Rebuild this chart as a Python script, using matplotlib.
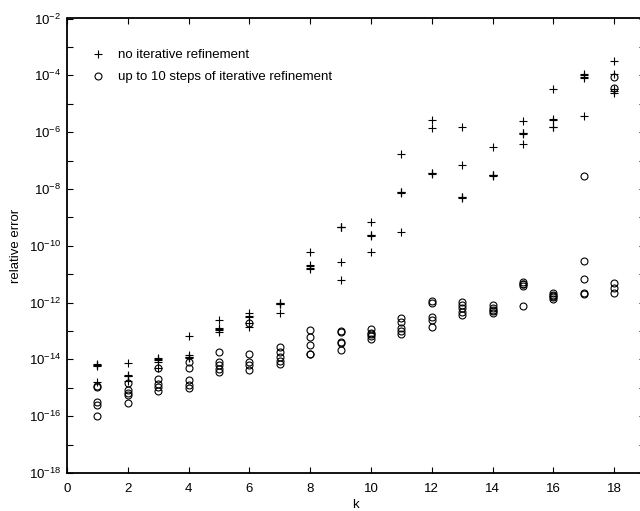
import matplotlib
matplotlib.use("Agg")
import matplotlib.pyplot as plt
from matplotlib.ticker import FixedLocator, FixedFormatter, NullFormatter

plt.rcParams['font.family'] = ['Liberation Sans', 'DejaVu Sans']
plt.rcParams['mathtext.fontset'] = 'custom'
plt.rcParams['mathtext.rm'] = 'Liberation Sans'
plt.rcParams['mathtext.it'] = 'Liberation Sans:italic'
plt.rcParams['mathtext.bf'] = 'Liberation Sans:bold'

# ---- data (5 trials per k) ----
k = list(range(1, 19))

err_no_refine = [
    [6.5e-15, 6.5e-15, 6.0e-15, 1.6e-15, 6.9e-15],     # k=1
    [7.6e-15, 2.8e-15, 2.7e-15, 2.6e-15, 1.7e-15],     # k=2
    [1.1e-14, 8.3e-15, 9.5e-15, 4.9e-15, 1.02e-14],    # k=3
    [6.8e-14, 1.4e-14, 1.26e-14, 1.17e-14, 1.12e-14],  # k=4
    [2.45e-13, 1.26e-13, 9.5e-14, 1.1e-13, 1.17e-13],  # k=5
    [4.2e-13, 3.4e-13, 3.2e-13, 1.9e-13, 1.38e-13],    # k=6
    [9.3e-13, 9.3e-13, 8.9e-13, 4.2e-13, 8.7e-13],     # k=7
    [6.2e-11, 2.1e-11, 1.95e-11, 1.48e-11, 1.66e-11],  # k=8
    [4.7e-10, 4.6e-10, 4.4e-10, 2.75e-11, 6.3e-12],    # k=9
    [7.1e-10, 2.4e-10, 2.3e-10, 6.2e-11, 2.24e-10],    # k=10
    [1.7e-7, 7.6e-9, 7.2e-9, 3.16e-10, 7.8e-9],        # k=11
    [2.7e-6, 1.4e-6, 3.6e-8, 3.6e-8, 3.4e-8],          # k=12
    [1.55e-6, 7.1e-8, 5.2e-9, 5.0e-9, 4.8e-9],         # k=13
    [3.1e-7, 3.1e-8, 3.0e-8, 2.9e-8, 3.2e-8],          # k=14
    [2.45e-6, 9.5e-7, 8.5e-7, 3.8e-7, 9.1e-7],         # k=15
    [3.2e-5, 2.8e-6, 1.5e-6, 2.6e-6, 1.5e-6],          # k=16
    [1.15e-4, 7.8e-5, 3.7e-6, 8.7e-5, 1.02e-4],        # k=17
    [3.2e-4, 1.12e-4, 3.2e-5, 2.4e-5, 2.75e-5],        # k=18
]

err_refine = [
    [1.15e-15, 1.1e-15, 3.2e-16, 2.5e-16, 1.0e-16],    # k=1
    [1.5e-15, 8.3e-16, 6.6e-16, 5.6e-16, 2.8e-16],     # k=2
    [4.9e-15, 2.0e-15, 1.35e-15, 1.1e-15, 7.9e-16],    # k=3
    [8.1e-15, 5.0e-15, 1.86e-15, 1.26e-15, 9.8e-16],   # k=4
    [1.86e-14, 8.3e-15, 6.3e-15, 4.5e-15, 3.7e-15],    # k=5
    [1.95e-13, 1.55e-14, 8.3e-15, 6.2e-15, 4.3e-15],   # k=6
    [2.75e-14, 1.8e-14, 1.2e-14, 8.5e-15, 6.9e-15],    # k=7
    [1.05e-13, 5.9e-14, 3.1e-14, 1.6e-14, 1.58e-14],   # k=8
    [1.0e-13, 9.5e-14, 4.1e-14, 3.8e-14, 2.2e-14],     # k=9
    [1.15e-13, 8.7e-14, 6.6e-14, 5.1e-14, 7.8e-14],    # k=10
    [2.75e-13, 2.1e-13, 1.23e-13, 1.0e-13, 7.8e-14],   # k=11
    [1.15e-12, 9.5e-13, 3.0e-13, 2.45e-13, 1.4e-13],   # k=12
    [1.07e-12, 8.3e-13, 6.3e-13, 4.8e-13, 3.6e-13],    # k=13
    [7.9e-13, 6.2e-13, 5.0e-13, 4.3e-13, 5.5e-13],     # k=14
    [5.5e-12, 4.5e-12, 3.7e-12, 7.6e-13, 4.4e-12],     # k=15
    [2.2e-12, 1.86e-12, 1.6e-12, 1.3e-12, 1.7e-12],    # k=16
    [2.75e-8, 3.0e-11, 6.5e-12, 2.2e-12, 1.95e-12],    # k=17
    [8.9e-5, 3.7e-5, 4.8e-12, 3.2e-12, 2.1e-12],       # k=18
]

label_no_refine = "no iterative refinement"
label_refine = "up to 10 steps of iterative refinement"
x_label = "k"
y_label = "relative error"
x_ticks = [0, 2, 4, 6, 8, 10, 12, 14, 16, 18]
y_major_exps = [-18, -16, -14, -12, -10, -8, -6, -4, -2]
y_minor_exps = [-17, -15, -13, -11, -9, -7, -5, -3]

# ---- figure ----
fig = plt.figure(figsize=(6.4, 5.11), dpi=100)
ax = fig.add_axes([67/640, (511-473)/511, 19*30.4/640, (473-18.5)/511])

xs_p, ys_p, xs_o, ys_o = [], [], [], []
for kk, vals in zip(k, err_no_refine):
    xs_p += [kk]*len(vals)
    ys_p += vals
for kk, vals in zip(k, err_refine):
    xs_o += [kk]*len(vals)
    ys_o += vals

ax.plot(xs_p, ys_p, linestyle='none', marker='+', color='black',
        markersize=6, markeredgewidth=0.8, label=label_no_refine)
ax.plot(xs_o, ys_o, linestyle='none', marker='o', markerfacecolor='none',
        markeredgecolor='black', markersize=5, markeredgewidth=0.8,
        label=label_refine)

ax.set_yscale('log')
ax.set_xlim(0, 19)
ax.set_ylim(1e-18, 1e-2)

ax.set_xticks(x_ticks)
ax.set_xticklabels([str(t) for t in x_ticks])
ax.yaxis.set_major_locator(FixedLocator([10.0**e for e in y_major_exps]))
ax.yaxis.set_major_formatter(FixedFormatter([r'$10^{%d}$' % e for e in y_major_exps]))
ax.yaxis.set_minor_locator(FixedLocator([10.0**e for e in y_minor_exps]))
ax.yaxis.set_minor_formatter(NullFormatter())

ax.tick_params(which='both', direction='in', top=True, right=True,
               length=4.5, width=0.8, labelsize=9.5)
ax.tick_params(axis='x', pad=7)
ax.tick_params(axis='y', pad=4)
for s in ax.spines.values():
    s.set_linewidth(1.3)

ax.set_xlabel(x_label, fontsize=9.5, labelpad=3)
ax.set_ylabel(y_label, fontsize=9.5, labelpad=5)

leg = ax.legend(loc='upper left', bbox_to_anchor=(0.017, 0.962), frameon=False,
                fontsize=9.5, handlelength=1.2, handletextpad=0.9,
                labelspacing=0.75, borderaxespad=0.6)

fig.savefig("out.png", dpi=100)
